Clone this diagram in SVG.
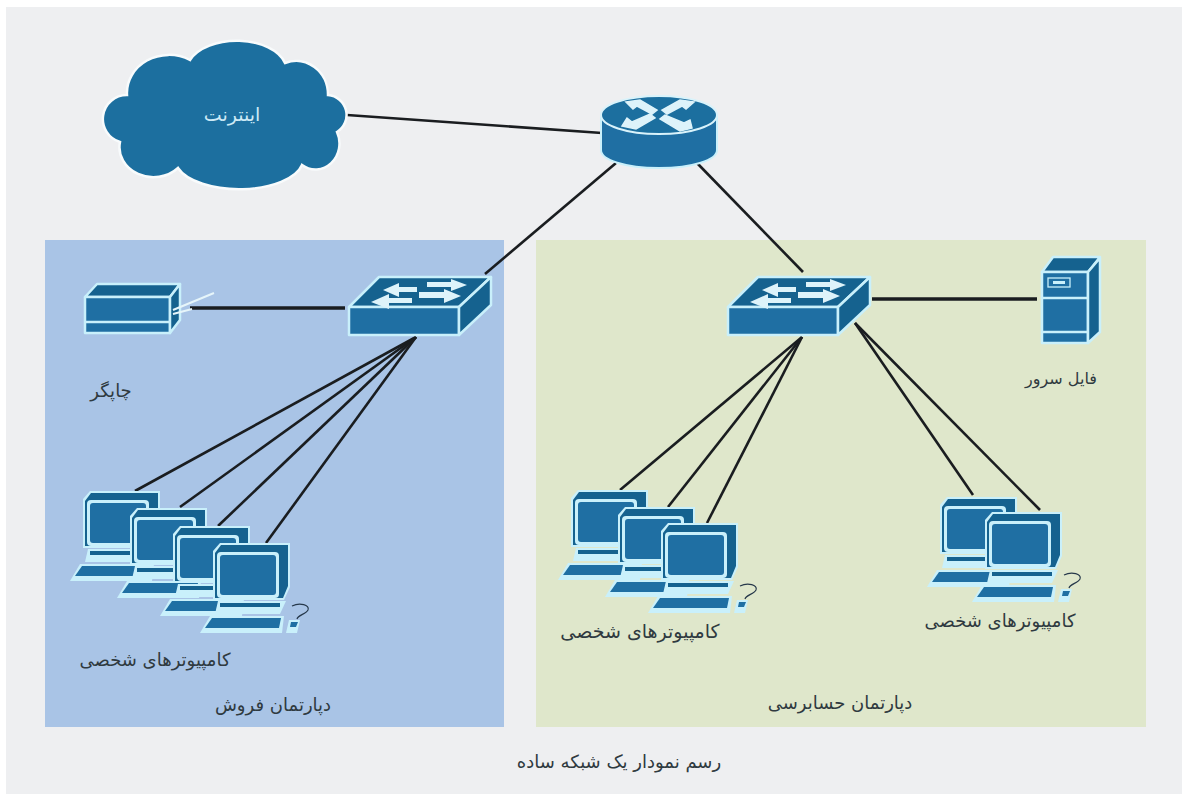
<svg xmlns="http://www.w3.org/2000/svg" width="1182" height="794" viewBox="0 0 1182 794">
<style>
text{font-family:"DejaVu Sans","Noto Sans",sans-serif;text-anchor:middle;direction:rtl;font-size:18px;fill:#2f3a40}
.w{fill:#cdeaf6;font-size:19px}
.d{fill:#1f6fa3;stroke:#c9f0fb;stroke-width:2.5;stroke-linejoin:round}
.k{fill:#15628f;stroke:#c9f0fb;stroke-width:2.5;stroke-linejoin:round}
.a{fill:#ddf3fa}
.c line{stroke:#1a1d20;stroke-width:2.6;fill:none}
.c .t{stroke-width:3.5}
</style>
<defs>
<g id="pc">
<path d="M13,8L20,0H90V44L84,57H13Z" fill="#c9f0fb"/>
<path d="M15,10L21,2H88V43L83,55H15Z" fill="#15628f"/>
<rect x="17" y="9" width="62" height="46" rx="4" fill="#c9f0fb"/>
<rect x="20" y="12" width="56" height="40" rx="3" fill="#1f6fa3"/>
<path d="M18,58H86L80,71H15Z" fill="#c9f0fb"/>
<rect x="20" y="60" width="60" height="4" fill="#15628f"/>
<path d="M10,73H84L82,90H0Z" fill="#c9f0fb"/>
<path d="M12,75H81L79,85H5Z" fill="#1f6fa3"/>
</g>
<g id="mouse">
<path d="M92,63C100,59 110,62 108,67C106,71 98,72 97,76" fill="none" stroke="#26384a" stroke-width="1.2"/>
<path d="M89,77H100L97,90H86Z" fill="#c9f0fb"/>
<path d="M91,79H98L96,84H90Z" fill="#1f6fa3"/>
</g>
<g id="sw">
<path class="k" d="M0,30L30,0H142L110,30Z"/>
<path class="d" d="M0,30H110V58H0Z"/>
<path class="k" d="M110,30L142,0V28L110,58Z"/>
<path class="a" d="M34,13L50,6V10H68V15H50V20Z"/>
<path class="a" d="M78,5H102V2L118,8L102,14V10H78Z"/>
<path class="a" d="M22,25L40,17V21H63V26H40V32Z"/>
<path class="a" d="M70,15H95V12L112,19L95,26V21H70Z"/>
</g>
</defs>
<rect width="1182" height="794" fill="#fff"/>
<rect x="6" y="7" width="1176" height="787" fill="#eeeff1"/>
<rect x="45" y="240" width="459" height="487" fill="#a9c4e6"/>
<rect x="536" y="240" width="610" height="487" fill="#dfe7cb"/>
<g class="c" id="connectors">
<line x1="347" y1="115" x2="602" y2="133"/>
<line x1="616" y1="163" x2="485" y2="274"/>
<line x1="697" y1="163" x2="803" y2="272"/>
<line class="t" x1="190" y1="308" x2="345" y2="308"/>
<line x1="416" y1="337" x2="135" y2="491"/>
<line x1="416" y1="337" x2="180" y2="507"/>
<line x1="416" y1="337" x2="218" y2="526"/>
<line x1="416" y1="337" x2="266" y2="543"/>
<line x1="802" y1="337" x2="620" y2="490"/>
<line x1="802" y1="337" x2="668" y2="507"/>
<line x1="802" y1="337" x2="707" y2="523"/>
<line x1="855" y1="323" x2="973" y2="495"/>
<line x1="855" y1="323" x2="1040" y2="510"/>
<line class="t" x1="872" y1="299" x2="1037" y2="299"/>
</g>
<g id="internet">
<path d="M120,142A24,24 0 0 1 127,95A42,38 0 0 1 190,60A50,30 0 0 1 285,63A32,34 0 0 1 328,95A20,20 0 0 1 337,132A24,26 0 0 1 302,165A64,30 0 0 1 178,168A34,30 0 0 1 120,142Z" fill="#1c6f9f" stroke="#f8fbfc" stroke-width="2.5"/>
<text class="w" x="232" y="121">اینترنت</text>
</g>
<g id="router">
<path d="M601,115V150C601,160 625,168 659,168C693,168 717,160 717,150V115Z" fill="#1f6fa3" stroke="#c9f0fb" stroke-width="2"/>
<ellipse cx="659" cy="115" rx="58" ry="19" fill="#1c6f9f" stroke="#d9f3fb" stroke-width="2"/>
<path class="a" stroke="#ddf3fa" stroke-width="1.5" d="M626,102L640,100L657,110L652,114L637,106L633,109ZM694,102L680,100L662,110L667,114L682,106L686,109ZM622,126L636,129L655,118L650,114L632,122L627,118ZM692,128L680,131L660,119L665,115L684,123L690,120Z"/>
</g>
<g id="switch-sales"><use href="#sw" x="349" y="277"/></g>
<g id="switch-audit"><use href="#sw" x="728" y="277"/></g>
<g id="printer">
<path class="k" d="M85,297L97,284H180L170,297Z"/>
<path class="d" d="M85,297H170V333H85Z"/>
<path d="M85,322H170" stroke="#c9f0fb" stroke-width="2.5"/>
<path class="k" d="M170,297L180,284V320L170,333Z"/>
<path d="M173,310L214,293M173,314L192,309" stroke="#e6f5fa" stroke-width="2" fill="none"/>
<text x="111" y="397">چاپگر</text>
</g>
<g id="server">
<path class="k" d="M1042,272L1053,257H1100L1088,272Z"/>
<path class="d" d="M1042,272H1088V343H1042Z"/>
<path class="k" d="M1088,272L1100,258V332L1088,343Z"/>
<path d="M1042,298H1088M1042,332H1088" stroke="#c9f0fb" stroke-width="2.5"/>
<rect x="1048" y="278" width="22" height="9" fill="none" stroke="#c9f0fb" stroke-width="1.3"/>
<rect x="1053" y="281" width="12" height="3" fill="#c9f0fb"/>
<text x="1061" y="384" style="font-size:16px">فایل سرور</text>
</g>
<g id="pcs-sales">
<use href="#pc" x="70" y="491"/><use href="#pc" x="117" y="508"/><use href="#pc" x="160" y="526"/><use href="#pc" x="200" y="543"/><use href="#mouse" x="200" y="543"/>
<text x="155" y="666">کامپیوترهای شخصی</text>
</g>
<g id="pcs-audit-a">
<use href="#pc" x="558" y="490"/><use href="#pc" x="605" y="507"/><use href="#pc" x="648" y="523"/><use href="#mouse" x="648" y="523"/>
<text x="640" y="638" style="font-size:19px">کامپیوترهای شخصی</text>
</g>
<g id="pcs-audit-b">
<use href="#pc" x="927" y="497"/><use href="#pc" x="972" y="512"/><use href="#mouse" x="972" y="512"/>
<text x="1000" y="627">کامپیوترهای شخصی</text>
</g>
<g id="labels">
<text x="273" y="711">دپارتمان فروش</text>
<text x="840" y="709">دپارتمان حسابرسی</text>
<text x="619" y="768">رسم نمودار یک شبکه ساده</text>
</g>
</svg>
